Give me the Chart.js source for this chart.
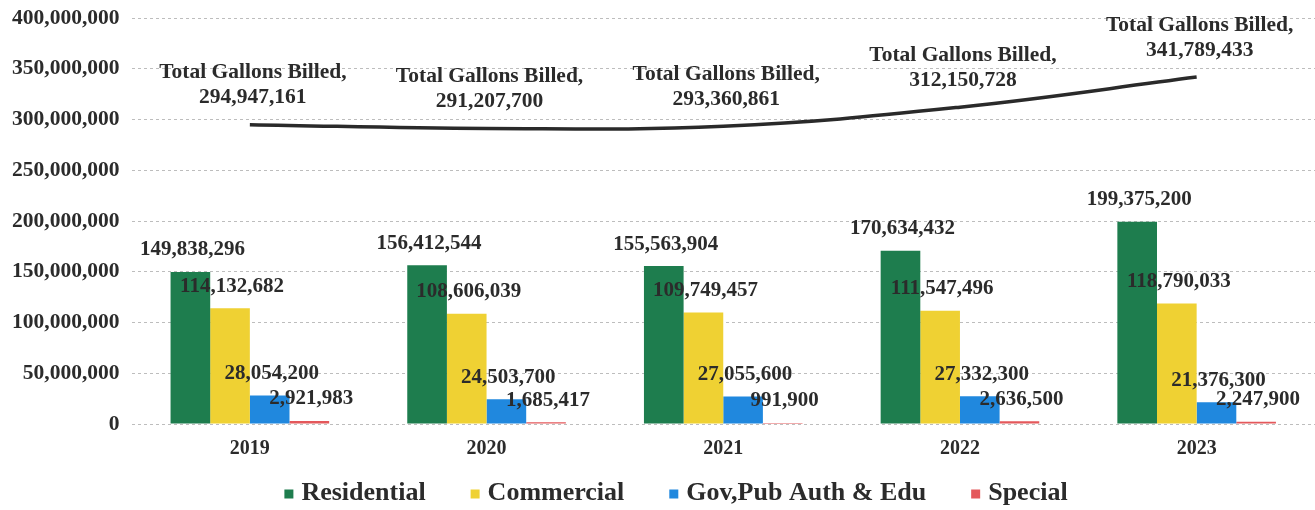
<!DOCTYPE html>
<html>
<head>
<meta charset="utf-8">
<script src="https://cdn.jsdelivr.net/npm/chart.js@4/dist/chart.umd.min.js"></script>
<style>
  html, body { margin: 0; padding: 0; background: #fff; }
  #wrap { width: 1315px; height: 510px; }
</style>
</head>
<body>
<div id="wrap"><canvas id="chart"></canvas></div>
<script>
// gallons billed per customer class, by year
const years = ['2019', '2020', '2021', '2022', '2023'];
const residential = [149838296, 156412544, 155563904, 170634432, 199375200];
const commercial = [114132682, 108606039, 109749457, 111547496, 118790033];
const govPubEdu = [28054200, 24503700, 27055600, 27332300, 21376300];
const special = [2921983, 1685417, 991900, 2636500, 2247900];
const totalBilled = [294947161, 291207700, 293360861, 312150728, 341789433];
const yTicks = [0, 50000000, 100000000, 150000000, 200000000, 250000000, 300000000, 350000000, 400000000];

const serif = "'Liberation Serif', 'Times New Roman', serif";
const textColor = '#2b2b2b';
const fmt = v => v.toLocaleString('en-US');

Chart.defaults.font.family = serif;
Chart.defaults.font.weight = 'bold';
Chart.defaults.color = textColor;

// value labels above bars, two-line labels above the total line
const valueLabels = {
  id: 'valueLabels',
  afterDatasetsDraw(chart) {
    const ctx = chart.ctx;
    ctx.save();
    ctx.fillStyle = textColor;
    ctx.textAlign = 'center';
    ctx.textBaseline = 'middle';
    chart.data.datasets.forEach((ds, i) => {
      const meta = chart.getDatasetMeta(i);
      meta.data.forEach((el, j) => {
        const v = ds.data[j];
        if (ds.type === 'line') {
          ctx.font = 'bold 21.5px ' + serif;
          ctx.fillText('Total Gallons Billed,', el.x + 3, el.y - 52);
          ctx.fillText(fmt(v), el.x + 3, el.y - 27);
        } else {
          ctx.font = 'bold 21px ' + serif;
          ctx.fillText(fmt(v), el.x + 2, el.y - 22);
        }
      });
    });
    ctx.restore();
  }
};

// legend row under the x axis (bar series only)
const bottomLegend = {
  id: 'bottomLegend',
  afterDraw(chart) {
    const ctx = chart.ctx;
    const items = chart.data.datasets.filter(ds => ds.type !== 'line');
    const box = 9, gap = 8, spacing = 45, y = 493;
    ctx.save();
    ctx.font = 'bold 26px ' + serif;
    ctx.textBaseline = 'middle';
    const widths = items.map(ds => box + gap + ctx.measureText(ds.label).width);
    const total = widths.reduce((a, b) => a + b, 0) + spacing * (items.length - 1);
    let x = 676 - total / 2;
    items.forEach((ds, i) => {
      ctx.fillStyle = ds.backgroundColor;
      ctx.fillRect(x, y - box / 2 + 1, box, box);
      ctx.fillStyle = textColor;
      ctx.fillText(ds.label, x + box + gap, y);
      x += widths[i] + spacing;
    });
    ctx.restore();
  }
};

new Chart(document.getElementById('chart'), {
  type: 'bar',
  data: {
    labels: years,
    datasets: [
      {
        type: 'line',
        label: 'Total Gallons Billed',
        data: totalBilled,
        borderColor: '#2a2a2a',
        borderWidth: 3.5,
        pointRadius: 0,
        tension: 0.4,
        fill: false,
        order: 0
      },
      { label: 'Residential', data: residential, backgroundColor: '#1e7d4e', order: 1 },
      { label: 'Commercial', data: commercial, backgroundColor: '#efd133', order: 1 },
      { label: 'Gov,Pub Auth & Edu', data: govPubEdu, backgroundColor: '#2088de', order: 1 },
      { label: 'Special', data: special, backgroundColor: '#e4585b', order: 1 }
    ]
  },
  options: {
    responsive: true,
    maintainAspectRatio: false,
    animation: false,
    datasets: {
      bar: { categoryPercentage: 0.67, barPercentage: 1.0 }
    },
    layout: { padding: { left: 0, top: 0, right: 0, bottom: 44 } },
    scales: {
      x: {
        grid: { display: false },
        border: { display: false },
        ticks: { font: { size: 20, weight: 'bold' }, padding: 5, color: textColor }
      },
      y: {
        min: 0,
        max: 400000000,
        afterBuildTicks(axis) { axis.ticks = yTicks.map(v => ({ value: v })); },
        // keep the top gridline close to the canvas edge
        afterFit(axis) { axis.paddingTop = 18; },
        grid: { color: '#bdbdbd', lineWidth: 1, drawTicks: false },
        border: { display: false, dash: [3, 3] },
        ticks: {
          font: { size: 21.5, weight: 'bold' },
          padding: 12,
          color: textColor,
          callback: v => fmt(v)
        }
      }
    },
    plugins: {
      tooltip: { enabled: false },
      legend: { display: false }
    }
  },
  plugins: [valueLabels, bottomLegend]
});
</script>
</body>
</html>
